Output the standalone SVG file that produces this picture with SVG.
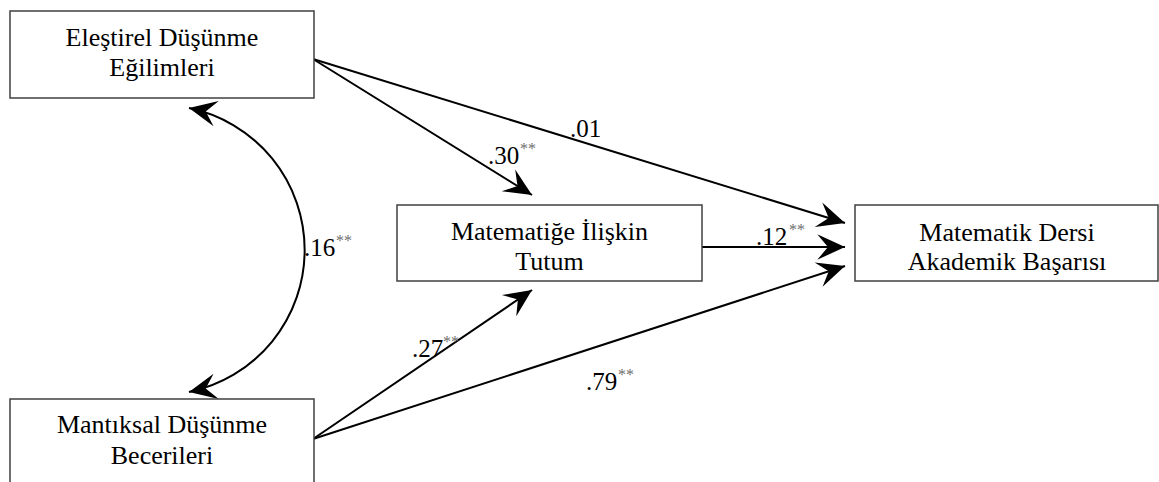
<svg xmlns="http://www.w3.org/2000/svg" width="1159" height="482" viewBox="0 0 1159 482">
<style>
.box{fill:#fff;stroke:#404040;stroke-width:1.5}
.t{font-family:"Liberation Serif","Times New Roman",serif;font-size:26px;fill:#000;text-anchor:middle}
.lab{font-family:"Liberation Serif","Times New Roman",serif;font-size:25px;fill:#000}
.sup{font-family:"Liberation Serif","Times New Roman",serif;font-size:16px;fill:#6e6e6e}
.c{fill:none;stroke:#000;stroke-width:2}
</style>
<defs>
<marker id="ah" markerUnits="userSpaceOnUse" markerWidth="32" markerHeight="32" viewBox="-28 -14 30 28" refX="0" refY="0" orient="auto-start-reverse">
<path d="M0,0 L-26,-12 L-16,0 L-26,12 Z" fill="#000"/>
</marker>
</defs>
<rect width="1159" height="482" fill="#fff"/>
<g id="connectors">
<line class="c" x1="313" y1="59" x2="532" y2="195" marker-end="url(#ah)"/>
<line class="c" x1="313" y1="59" x2="845" y2="223" marker-end="url(#ah)"/>
<line class="c" x1="702" y1="247" x2="845" y2="247" marker-end="url(#ah)"/>
<line class="c" x1="313" y1="439" x2="532" y2="290" marker-end="url(#ah)"/>
<line class="c" x1="313" y1="439" x2="845" y2="266" marker-end="url(#ah)"/>
<path class="c" d="M189,108 A145,145 0 0,1 189,392" marker-start="url(#ah)" marker-end="url(#ah)"/>
</g>
<g id="labels">
<text class="lab" x="570" y="137">.01</text>
<text class="lab" x="488" y="164">.30</text><text class="sup" x="520" y="154">**</text>
<text class="lab" x="756" y="245">.12</text><text class="sup" x="789" y="235">**</text>
<text class="lab" x="412" y="357">.27</text><text class="sup" x="443" y="347">**</text>
<text class="lab" x="304" y="256">.16</text><text class="sup" x="336" y="246">**</text>
<text class="lab" x="586" y="390">.79</text><text class="sup" x="618" y="380">**</text>
</g>
<g id="node-elestirel">
<rect class="box" x="10" y="11" width="304" height="87"/>
<text class="t" x="162" y="46">Eleştirel Düşünme</text>
<text class="t" x="162" y="76">Eğilimleri</text>
</g>
<g id="node-mantiksal">
<rect class="box" x="10" y="399" width="304" height="95"/>
<text class="t" x="162" y="433">Mantıksal Düşünme</text>
<text class="t" x="162" y="464">Becerileri</text>
</g>
<g id="node-tutum">
<rect class="box" x="397" y="205" width="305" height="76"/>
<text class="t" x="549.5" y="240">Matematiğe İlişkin</text>
<text class="t" x="549.5" y="270">Tutum</text>
</g>
<g id="node-basari">
<rect class="box" x="855" y="205" width="303" height="76"/>
<text class="t" x="1007" y="241">Matematik Dersi</text>
<text class="t" x="1007" y="270">Akademik Başarısı</text>
</g>
</svg>
